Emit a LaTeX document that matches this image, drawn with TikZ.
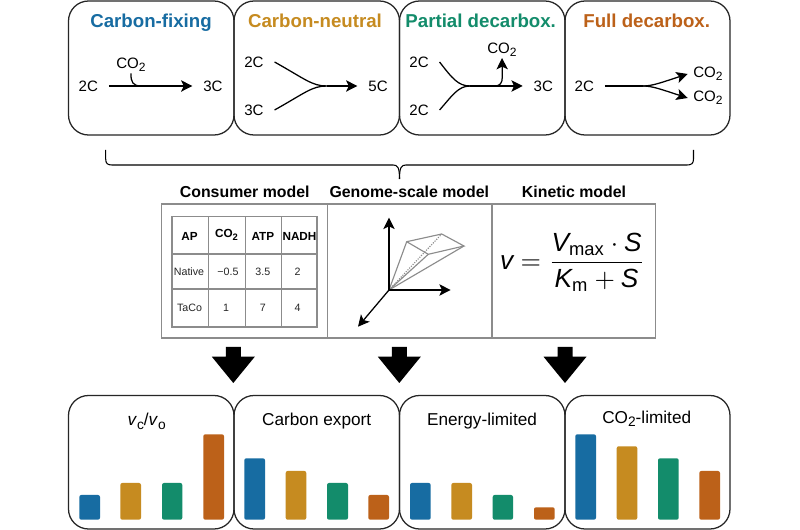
\documentclass[tikz,border=0pt]{standalone}
\usepackage{fontspec}
\setmainfont{Liberation Sans}
\setsansfont{Liberation Sans}
\usetikzlibrary{arrows.meta}
\definecolor{cblue}{HTML}{176CA2}
\definecolor{cgold}{HTML}{C68B20}
\definecolor{cgreen}{HTML}{138C6B}
\definecolor{corange}{HTML}{BC6119}
\definecolor{gridgrey}{HTML}{8C8C8C}
\newcommand\cotwo{CO\raisebox{-.38ex}{\scalebox{.8}{2}}}
\newcommand\fsfit[1]{\hbox{\sffamily\itshape #1}}
\tikzset{
  panel/.style={draw=black!85,line width=.95pt,rounded corners=15pt},
  paneltitle/.style={font=\fontsize{14}{16}\selectfont\bfseries,inner sep=0pt,anchor=base},
  lab/.style={font=\fontsize{11.3}{13}\selectfont,inner xsep=8pt,inner ysep=1pt},
  labco/.style={font=\fontsize{11.3}{13}\selectfont,inner xsep=4pt,inner ysep=1pt},
  bartitle/.style={font=\fontsize{12.9}{15}\selectfont,inner sep=0pt,anchor=base},
  head/.style={font=\fontsize{11.9}{15}\selectfont\bfseries,inner sep=0pt,anchor=base},
  tabt/.style={font=\fontsize{8}{10}\selectfont,inner sep=0pt,text=black!85},
  tabh/.style={font=\fontsize{8.8}{10}\selectfont\bfseries,inner sep=0pt},
  conn/.style={draw=black,line width=.95pt},
  arr/.style={conn,-{Stealth[length=8.5pt,width=8.5pt,inset=2pt]}},
  grid line/.style={draw=gridgrey,line width=.95pt},
  poly/.style={draw=gridgrey,line width=.85pt},
  bar/.style={rounded corners=1.5pt},
  blockarrow/.style={fill=black},
}
\begin{document}
\begin{tikzpicture}[x=0.75pt,y=-0.75pt]
\useasboundingbox (0,0) rectangle (800,530);
\fill[white] (0,0) rectangle (800,530);

% top panels
\draw[panel] (68.5,1) rectangle (234,135);
\draw[panel] (234,1) rectangle (399.5,135);
\draw[panel] (399.5,1) rectangle (565,135);
\draw[panel] (565,1) rectangle (730,135);
\node[paneltitle,text=cblue] (t1) at (151,28) {Carbon-fixing};
\node[paneltitle,text=cgold] (t2) at (315,28) {Carbon-neutral};
\node[paneltitle,text=cgreen] (t3) at (480.7,28) {Partial decarbox.};
\node[paneltitle,text=corange] (t4) at (646.7,28) {Full decarbox.};

% panel 1
\node[lab] (a2) at (88.3,86) {2C};
\node[lab] (a3) at (213,86) {3C};
\node[labco,anchor=south] (aco) at (131,73.5) {\cotwo};
\coordinate (ajoin) at (141,86);
\draw[arr] (a2.east) -- (a3.west);
\draw[conn] (aco.south) .. controls (130.7,82) and (133,86) .. (ajoin);

% panel 2
\node[lab] (b2) at (254,62) {2C};
\node[lab] (b3) at (254,110) {3C};
\node[lab] (b5) at (378,86) {5C};
\coordinate (bjoin) at (326.7,86);
\draw[conn] (b2.east) .. controls (305,79) and (312,86) .. (bjoin);
\draw[conn] (b3.east) .. controls (305,93) and (312,86) .. (bjoin);
\draw[arr] (bjoin) -- (b5.west);

% panel 3
\node[lab] (c2a) at (419,62) {2C};
\node[lab] (c2b) at (419,110) {2C};
\node[lab] (c3) at (543.3,86) {3C};
\node[labco,anchor=south] (cco) at (502,58) {\cotwo};
\coordinate (cjoin) at (470,86);
\coordinate (cfork) at (495,86);
\draw[conn] (c2a.east) .. controls (452,78) and (458,86) .. (cjoin);
\draw[conn] (c2b.east) .. controls (452,96) and (458,86) .. (cjoin);
\draw[arr] (cjoin) -- (c3.west);
\draw[arr] (cfork) .. controls (500,86) and (502.3,83) .. (502.3,77) -- (cco.south);

% panel 4
\node[lab] (d2) at (584.3,86) {2C};
\node[labco] (dco1) at (708,74) {\cotwo};
\node[labco] (dco2) at (708,98) {\cotwo};
\coordinate (dfork) at (643,86);
\draw[conn] (d2.east) -- (dfork);
\draw[arr] (dfork) .. controls (652,86) and (660,83) .. (dco1.west);
\draw[arr] (dfork) .. controls (652,86) and (660,89) .. (dco2.west);

% brace
\coordinate (brl) at (105.7,150);
\coordinate (brr) at (693.5,150);
\coordinate (brm) at (399.5,179);
\draw[conn,line width=.8pt] (brl) -- (105.7,159) .. controls (105.7,163.5) and (107.5,165) .. (112,165)
  -- (393,165) .. controls (397.5,165) and (399.5,167) .. (brm);
\draw[conn,line width=.8pt] (brr) -- (693.5,159) .. controls (693.5,163.5) and (691.5,165) .. (687,165)
  -- (406,165) .. controls (401.5,165) and (399.5,167) .. (brm);

% model headers
\node[head] (h1) at (244.7,197.3) {Consumer model};
\node[head] (h2) at (409.3,197.3) {Genome-scale model};
\node[head] (h3) at (574,197.3) {Kinetic model};

% model frame
\draw[grid line] (161.7,204) rectangle (655.7,338);
\draw[grid line] (327.5,204) -- (327.5,338);
\draw[grid line] (492,204) -- (492,338);

% table
\draw[grid line] (172,216.3) rectangle (317,327);
\draw[grid line] (208.3,216.3) -- (208.3,327);
\draw[grid line] (245.5,216.3) -- (245.5,327);
\draw[grid line] (281.7,216.3) -- (281.7,327);
\draw[grid line] (172,254) -- (317,254);
\draw[grid line] (172,289) -- (317,289);
\node[tabh] (c11) at (189.5,236) {AP};
\node[tabh] (c12) at (226.5,235) {\cotwo};
\node[tabh] (c13) at (262.8,236) {ATP};
\node[tabh] (c14) at (299.5,236) {NADH};
\node[tabt] (c21) at (189,271.5) {Native};
\node[tabt] (c22) at (228,271.5) {\textminus0.5};
\node[tabt] (c23) at (262.8,271.5) {3.5};
\node[tabt] (c24) at (297.5,271.5) {2};
\node[tabt] (c31) at (189.5,308) {TaCo};
\node[tabt] (c32) at (226,308) {1};
\node[tabt] (c33) at (262.8,308) {7};
\node[tabt] (c34) at (297.5,308) {4};

% 3D sketch
\coordinate (o) at (389,290);
\coordinate (pa) at (406.7,241.7);
\coordinate (pb) at (441.7,234);
\coordinate (pc) at (464,246);
\coordinate (pd) at (428.3,254.3);
\draw[poly] (o) -- (pa) -- (pb) -- (pc) -- (pd) -- (pa);
\draw[poly] (o) -- (pd);
\draw[poly] (o) -- (pc);
\draw[poly,densely dotted] (o) -- (pb);
\coordinate (xt) at (450.7,290);
\coordinate (yt) at (389,217.7);
\coordinate (zt) at (358,326.7);
\draw[arr] (o) -- (xt);
\draw[arr] (o) -- (yt);
\draw[arr] (o) -- (zt);

% equation
\node[scale=1.97,inner sep=0pt] (eq) at (572.5,262) {$\displaystyle\fsfit{v} = \frac{\fsfit{V}_{\mathsf{max}}\cdot\fsfit{S}}{\fsfit{K}_{\mathsf{m}}+\fsfit{S}}$};

% block arrows
\foreach \cx in {233.3,399.3,565}{
  \fill[blockarrow] (\cx-7.5,347) -- (\cx+7.5,347) -- (\cx+7.5,356.7) -- (\cx+21.5,356.7) -- (\cx,383) -- (\cx-21.5,356.7) -- (\cx-7.5,356.7) -- cycle;
}

% bottom panels
\draw[panel] (68.5,395.5) rectangle (234,529);
\draw[panel] (234,395.5) rectangle (399.5,529);
\draw[panel] (399.5,395.5) rectangle (565,529);
\draw[panel] (565,395.5) rectangle (730,529);
\node[bartitle] (bt1) at (146.7,425.7) {\textit{v}\raisebox{-.38ex}{\scalebox{.8}{c}}/\textit{v}\raisebox{-.38ex}{\scalebox{.8}{o}}};
\node[bartitle] (bt2) at (316.7,425.7) {Carbon export};
\node[bartitle] (bt3) at (482,425.7) {Energy-limited};
\node[bartitle] (bt4) at (646.7,423.3) {\cotwo-limited};

% bars
\fill[bar,cblue] (79.3,495) rectangle (100,519.7);
\fill[bar,cgold] (120.3,483) rectangle (141,519.7);
\fill[bar,cgreen] (162,483) rectangle (182.3,519.7);
\fill[bar,corange] (203.3,434.3) rectangle (224,519.7);

\fill[bar,cblue] (244.3,458.3) rectangle (265,519.7);
\fill[bar,cgold] (285.7,471) rectangle (306.3,519.7);
\fill[bar,cgreen] (327,483) rectangle (348,519.7);
\fill[bar,corange] (368.3,495) rectangle (389,519.7);

\fill[bar,cblue] (410,483) rectangle (430.7,519.7);
\fill[bar,cgold] (451.3,483) rectangle (472,519.7);
\fill[bar,cgreen] (492.7,495) rectangle (513,519.7);
\fill[bar,corange] (534,507.3) rectangle (554.7,519.7);

\fill[bar,cblue] (575.3,434.3) rectangle (596,519.7);
\fill[bar,cgold] (616.7,446.3) rectangle (637.3,519.7);
\fill[bar,cgreen] (658,458.3) rectangle (678.7,519.7);
\fill[bar,corange] (699.3,471) rectangle (720,519.7);
\end{tikzpicture}
\end{document}
